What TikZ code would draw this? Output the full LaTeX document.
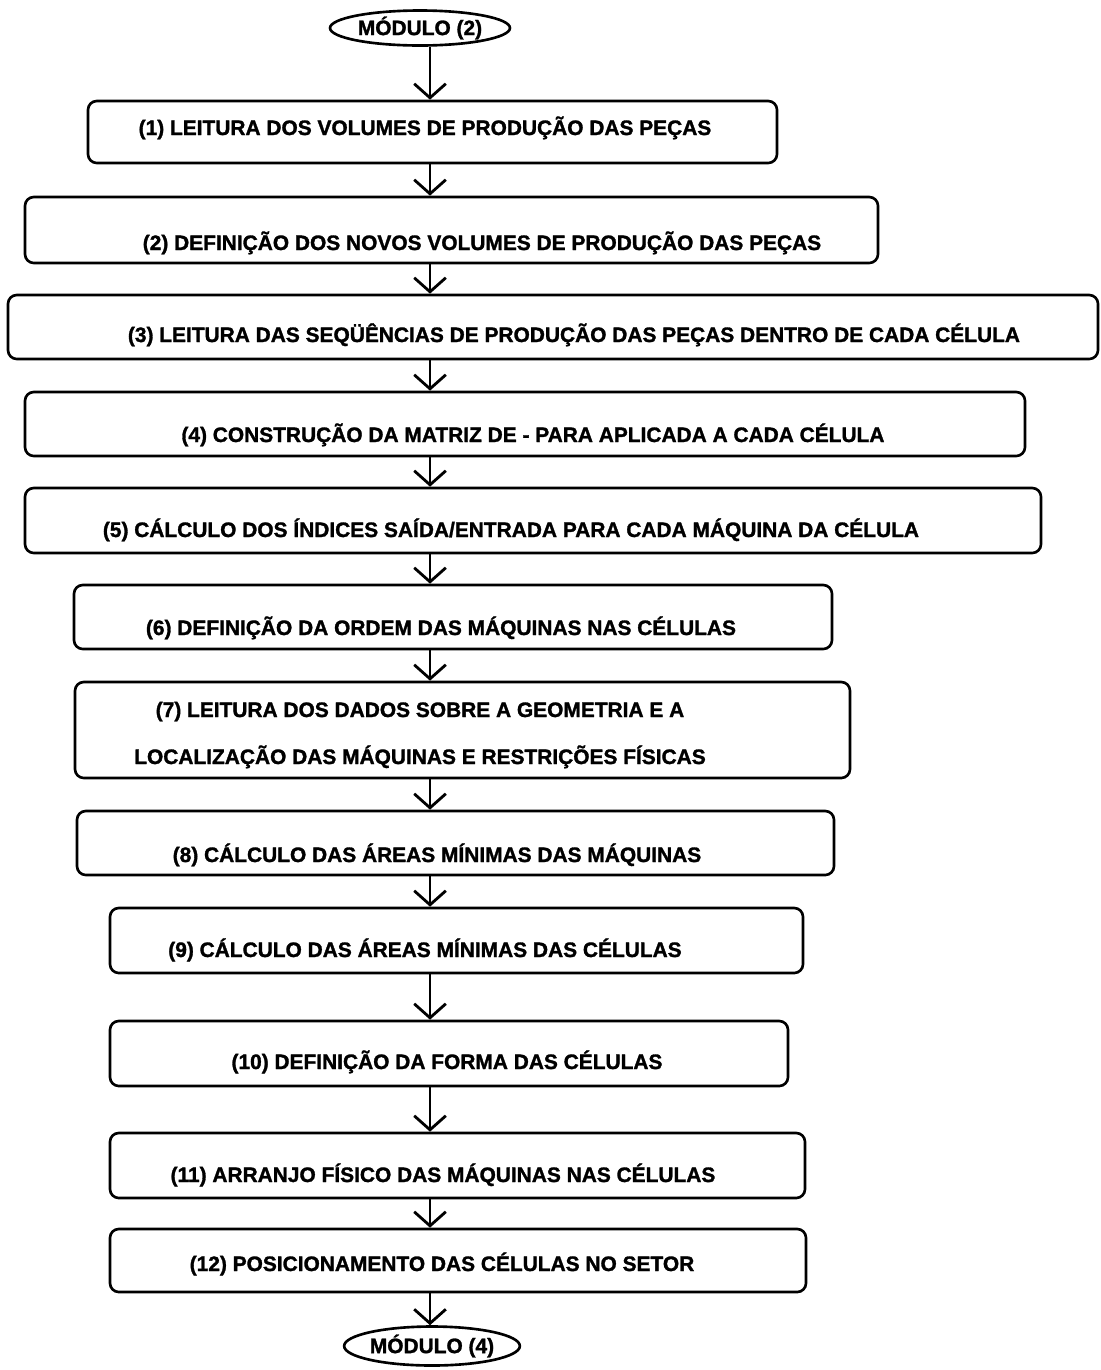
\documentclass[tikz,border=0pt]{standalone}
\usepackage{fontspec}
\setmainfont{Liberation Sans}
\newfontfamily\heavyfont{Liberation Sans Bold}[FakeBold=1.4]
\usetikzlibrary{arrows.meta,fit,shapes.geometric}

\begin{document}
\begin{tikzpicture}[x=0.02cm, y=-0.02cm, line width = 1.5pt,
				stepbox/.style = {draw, rounded corners = 5pt, inner sep = 0pt},
				steptext/.style = {font = \heavyfont\fontsize{11.9}{14}\selectfont,
				inner sep = 0pt, anchor = base},
				term/.style = {ellipse, draw, inner sep = 0pt,
				font = \heavyfont\fontsize{11.9}{14}\selectfont},
				flow/.style = {-{Straight Barb[length = 8pt, width = 18pt, line width = 1.6pt]}}]

				\useasboundingbox (0,0) rectangle (1100,1370);
				\coordinate (ax) at (430,0);

				\node [term, minimum width = 3.6cm, minimum height = 0.7cm] (m2) at (420,28) {MÓDULO (2)};

				\node [stepbox, fit = {(88,101) (777,163)}] (b1) {};
				\node [steptext] (t1) at (425,135) {(1) LEITURA DOS VOLUMES DE PRODUÇÃO DAS PEÇAS};

				\node [stepbox, fit = {(25,197) (878,263)}] (b2) {};
				\node [steptext] (t2) at (482,250) {(2) DEFINIÇÃO DOS NOVOS VOLUMES DE PRODUÇÃO DAS PEÇAS};

				\node [stepbox, fit = {(8,295) (1098,359)}] (b3) {};
				\node [steptext] (t3) at (574,342) {(3) LEITURA DAS SEQÜÊNCIAS DE PRODUÇÃO DAS PEÇAS DENTRO DE CADA CÉLULA};

				\node [stepbox, fit = {(25,392) (1025,456)}] (b4) {};
				\node [steptext] (t4) at (533,442) {(4) CONSTRUÇÃO DA MATRIZ DE - PARA APLICADA A CADA CÉLULA};

				\node [stepbox, fit = {(25,488) (1041,553)}] (b5) {};
				\node [steptext] (t5) at (511,537) {(5) CÁLCULO DOS ÍNDICES SAÍDA/ENTRADA PARA CADA MÁQUINA DA CÉLULA};

				\node [stepbox, fit = {(74,585) (832,649)}] (b6) {};
				\node [steptext] (t6) at (441,635) {(6) DEFINIÇÃO DA ORDEM DAS MÁQUINAS NAS CÉLULAS};

				\node [stepbox, fit = {(75,682) (850,778)}] (b7) {};
				\node [steptext] (t7a) at (420,717) {(7) LEITURA DOS DADOS SOBRE A GEOMETRIA E A};
				\node [steptext] (t7b) at (420,764) {LOCALIZAÇÃO DAS MÁQUINAS E RESTRIÇÕES FÍSICAS};

				\node [stepbox, fit = {(77,811) (834,875)}] (b8) {};
				\node [steptext] (t8) at (437,862) {(8) CÁLCULO DAS ÁREAS MÍNIMAS DAS MÁQUINAS};

				\node [stepbox, fit = {(110,908) (803,973)}] (b9) {};
				\node [steptext] (t9) at (425,957) {(9) CÁLCULO DAS ÁREAS MÍNIMAS DAS CÉLULAS};

				\node [stepbox, fit = {(110,1021) (788,1086)}] (b10) {};
				\node [steptext] (t10) at (447,1069) {(10) DEFINIÇÃO DA FORMA DAS CÉLULAS};

				\node [stepbox, fit = {(110,1133) (805,1198)}] (b11) {};
				\node [steptext] (t11) at (443,1182) {(11) ARRANJO FÍSICO DAS MÁQUINAS NAS CÉLULAS};

				\node [stepbox, fit = {(110,1229) (806,1292)}] (b12) {};
				\node [steptext] (t12) at (442,1271) {(12) POSICIONAMENTO DAS CÉLULAS NO SETOR};

				\node [term, minimum width = 3.1cm, minimum height = 0.78cm] (m4) at (432,1346) {MÓDULO (4)};

				\draw [flow] (m2.south -| ax) -- (b1.north -| ax);
				\draw [flow] (b1.south -| ax) -- (b2.north -| ax);
				\draw [flow] (b2.south -| ax) -- (b3.north -| ax);
				\draw [flow] (b3.south -| ax) -- (b4.north -| ax);
				\draw [flow] (b4.south -| ax) -- (b5.north -| ax);
				\draw [flow] (b5.south -| ax) -- (b6.north -| ax);
				\draw [flow] (b6.south -| ax) -- (b7.north -| ax);
				\draw [flow] (b7.south -| ax) -- (b8.north -| ax);
				\draw [flow] (b8.south -| ax) -- (b9.north -| ax);
				\draw [flow] (b9.south -| ax) -- (b10.north -| ax);
				\draw [flow] (b10.south -| ax) -- (b11.north -| ax);
				\draw [flow] (b11.south -| ax) -- (b12.north -| ax);
				\draw [flow] (b12.south -| ax) -- (m4.north -| ax);
\end{tikzpicture}
\end{document}
